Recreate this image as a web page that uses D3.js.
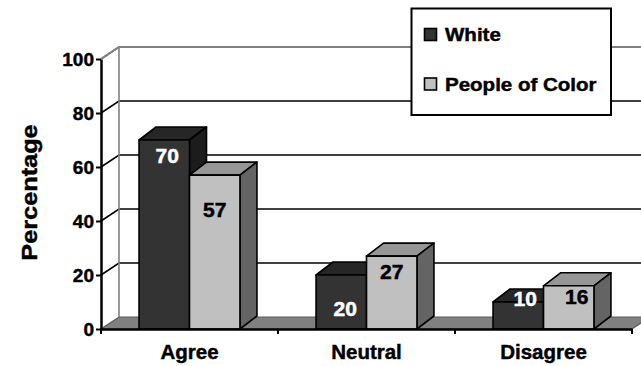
<!DOCTYPE html>
<html>
<head>
<meta charset="utf-8">
<script src="https://cdn.jsdelivr.net/npm/d3@7"></script>
<style>
  html, body { margin: 0; padding: 0; background: #fff; }
  svg { display: block; font-family: "Liberation Sans", Arial, sans-serif; font-weight: bold; }
</style>
</head>
<body>
<svg id="chart" width="641" height="366"></svg>
<script>
// Survey responses by group (percent)
const categories = ["Agree", "Neutral", "Disagree"];
const seriesNames = ["White", "People of Color"];
const whiteValues = [70, 20, 10];
const pocValues = [57, 27, 16];
const yTicks = [0, 20, 40, 60, 80, 100];
const yTitle = "Percentage";

// Styling and layout
const fills = {
  "White": { front: "#333333", top: "#262626", side: "#1c1c1c" },
  "People of Color": { front: "#c0c0c0", top: "#969696", side: "#646464" }
};
const plot = { left: 101, right: 632, top: 59, bottom: 329 };
const wallDepth = { dx: 18, dy: -12 };
const barDepth = { dx: 17, dy: -13 };
const textWeight = 0.45; // extra outline to thicken glyphs
// per bar label placement: [dx, baseline below bar top]
const labelPlace = [[[3, 23], [0, 42]], [[4, 41], [0, 23]], [[7, 4], [8, 18]]];

const svg = d3.select("#chart");

const y = d3.scaleLinear().domain([0, 100]).range([plot.bottom, plot.top]);
const x0 = d3.scaleBand().domain(categories).range([plot.left, plot.right])
  .paddingInner(0.43).paddingOuter(0.215);
const x1 = d3.scaleBand().domain(seriesNames).range([0, x0.bandwidth()]).padding(0);

const rows = categories.map((c, i) => ({
  category: c,
  values: [
    { series: "White", value: whiteValues[i] },
    { series: "People of Color", value: pocValues[i] }
  ]
}));

// Helper: bold text with a horizontal stretch
function wideText(parent, x, yPos, str, size, sx, anchor, fill, rot) {
  return parent.append("text")
    .attr("transform", `translate(${x},${yPos}) rotate(${rot || 0}) scale(${sx},1)`)
    .attr("text-anchor", anchor)
    .attr("font-size", size)
    .attr("fill", fill || "#000")
    .attr("stroke", fill || "#000")
    .attr("stroke-width", textWeight)
    .text(str);
}

const line = d3.line();

// Back wall
svg.append("rect")
  .attr("x", plot.left + wallDepth.dx).attr("y", plot.top + wallDepth.dy)
  .attr("width", 700).attr("height", plot.bottom - plot.top)
  .attr("fill", "#fff");

// Floor
svg.append("path")
  .attr("d", line([
    [plot.left, plot.bottom], [plot.right, plot.bottom],
    [plot.right + wallDepth.dx, plot.bottom + wallDepth.dy],
    [plot.left + wallDepth.dx, plot.bottom + wallDepth.dy]
  ]) + "Z")
  .attr("fill", "#808080").attr("stroke", "#5a5a5a").attr("stroke-width", 1.2);

// Gridlines across side wall and back wall
yTicks.filter(v => v > 0).forEach(v => {
  const yy = y(v);
  svg.append("path")
    .attr("d", line([
      [plot.left, yy],
      [plot.left + wallDepth.dx, yy + wallDepth.dy],
      [700, yy + wallDepth.dy]
    ]))
    .attr("fill", "none")
    .attr("stroke", v === 100 ? "#808080" : "#000")
    .attr("stroke-width", v === 100 ? 2 : 1.6);
});

// Back wall left edge
svg.append("line")
  .attr("x1", plot.left + wallDepth.dx).attr("x2", plot.left + wallDepth.dx)
  .attr("y1", y(100) + wallDepth.dy).attr("y2", y(0) + wallDepth.dy)
  .attr("stroke", "#808080").attr("stroke-width", 1.6);

// 3D columns
const bars = svg.append("g");
rows.forEach(row => {
  row.values.forEach(d => {
    const xa = x0(row.category) + x1(d.series);
    const xb = xa + x1.bandwidth();
    const yt = y(d.value), yb = y(0);
    const f = fills[d.series];
    const g = bars.append("g")
      .attr("stroke", "#000").attr("stroke-width", 1.6).attr("stroke-linejoin", "round");
    g.append("path")
      .attr("d", line([[xa, yt], [xb, yt], [xb + barDepth.dx, yt + barDepth.dy], [xa + barDepth.dx, yt + barDepth.dy]]) + "Z")
      .attr("fill", f.top);
    g.append("path")
      .attr("d", line([[xb, yt], [xb + barDepth.dx, yt + barDepth.dy], [xb + barDepth.dx, yb + barDepth.dy], [xb, yb]]) + "Z")
      .attr("fill", f.side);
    g.append("rect")
      .attr("x", xa).attr("y", yt).attr("width", xb - xa).attr("height", yb - yt)
      .attr("fill", f.front);
  });
});

// Y axis
const yAxis = svg.append("g")
  .attr("transform", `translate(${plot.left},0)`)
  .call(d3.axisLeft(y).tickValues(yTicks).tickSize(5).tickSizeOuter(0));
yAxis.select(".domain").attr("stroke", "#000").attr("stroke-width", 2.5);
yAxis.selectAll(".tick line").attr("stroke", "#000").attr("stroke-width", 2);
yAxis.selectAll(".tick text")
  .attr("x", -7).attr("dy", "0.36em")
  .attr("font-size", 19).attr("font-weight", "bold")
  .attr("font-family", "Liberation Sans, Arial, sans-serif")
  .attr("fill", "#000").attr("stroke", "#000").attr("stroke-width", textWeight);

// X axis
const xAxis = svg.append("g")
  .attr("transform", `translate(0,${plot.bottom})`)
  .call(d3.axisBottom(x0).tickSize(0).tickSizeOuter(0));
xAxis.select(".domain").attr("stroke", "#000").attr("stroke-width", 2.5);
xAxis.selectAll(".tick text")
  .attr("y", 30).attr("dy", 0)
  .attr("font-size", 20.5).attr("font-weight", "bold")
  .attr("font-family", "Liberation Sans, Arial, sans-serif")
  .attr("fill", "#000").attr("stroke", "#000").attr("stroke-width", textWeight);
d3.range(categories.length + 1).forEach(i => {
  const xx = plot.left + i * x0.step();
  xAxis.append("line")
    .attr("x1", xx).attr("x2", xx).attr("y1", 0).attr("y2", 5)
    .attr("stroke", "#000").attr("stroke-width", 2);
});

// Side wall top edge
svg.append("line")
  .attr("x1", plot.left).attr("y1", y(100))
  .attr("x2", plot.left + wallDepth.dx).attr("y2", y(100) + wallDepth.dy)
  .attr("stroke", "#808080").attr("stroke-width", 2);

// Value labels
rows.forEach((row, ci) => {
  row.values.forEach((d, si) => {
    const cx = x0(row.category) + x1(d.series) + x1.bandwidth() / 2;
    const p = labelPlace[ci][si];
    wideText(svg, cx + p[0], y(d.value) + p[1], String(d.value), 19.5, 1.08, "middle",
      d.series === "White" ? "#fff" : "#000");
  });
});

// Y axis title
wideText(svg, 37, 192.5, yTitle, 22, 1.15, "middle", "#000", -90);

// Legend
const legend = svg.append("g");
legend.append("rect")
  .attr("x", 411.5).attr("y", 8.5).attr("width", 199.5).attr("height", 106.5)
  .attr("fill", "#fff").attr("stroke", "#000").attr("stroke-width", 2);
seriesNames.forEach((s, i) => {
  const ly = 28.5 + i * 49.5;
  legend.append("rect")
    .attr("x", 424.5).attr("y", ly).attr("width", 12).attr("height", 12)
    .attr("fill", fills[s].front).attr("stroke", "#000").attr("stroke-width", 1.6);
  wideText(legend, 445, ly + 12.5, s, 19, 1.08, "start", "#000");
});
</script>
</body>
</html>
